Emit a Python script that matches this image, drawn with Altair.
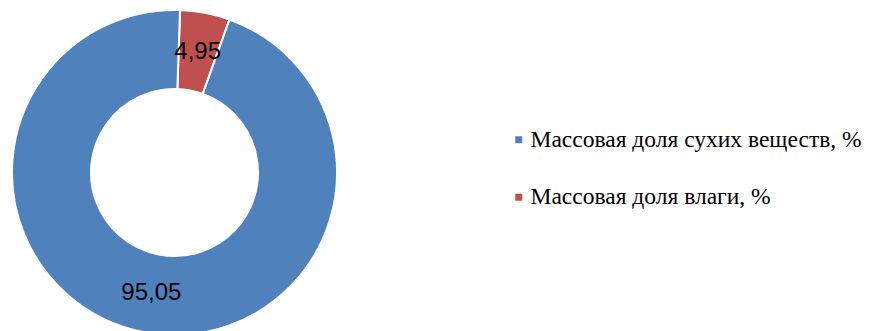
import math
import altair as alt
import pandas as pd

categories = ["Массовая доля влаги, %", "Массовая доля сухих веществ, %"]
values = [4.95, 95.05]
labels = ["4,95", "95,05"]
order = [0, 1]
legend_order = ["Массовая доля сухих веществ, %", "Массовая доля влаги, %"]
colors = ["#4F81BD", "#C0504D"]

df = pd.DataFrame({"cat": categories, "val": values, "lab": labels, "ord": order})

rot = 0.034
theta = alt.Theta("val:Q", stack=True,
                  scale=alt.Scale(range=[rot, 2 * math.pi + rot]))

base = alt.Chart(df)

arcs = base.mark_arc(outerRadius=162.5, innerRadius=83.5, stroke="white",
                     strokeWidth=2).encode(
    theta=theta,
    order=alt.Order("ord:Q"),
    x=alt.value(166.5),
    y=alt.value(164.5),
    color=alt.Color(
        "cat:N",
        scale=alt.Scale(domain=legend_order, range=colors),
        legend=alt.Legend(
            title=None, orient="none", legendX=499, legendY=120,
            symbolType="square", symbolSize=49, symbolStrokeWidth=0,
            labelFont="Liberation Serif", labelFontSize=23.5,
            labelColor="#000000", labelLimit=600, labelOffset=0,
            rowPadding=32.5,
        ),
    ),
)

texts = base.mark_text(radius=123, font="Liberation Sans", fontSize=24,
                       color="#000000").encode(
    theta=theta,
    order=alt.Order("ord:Q"),
    x=alt.value(166.5),
    y=alt.value(164.5),
    text="lab:N",
)

chart = alt.layer(arcs, texts).properties(
    width=857, height=323, padding=0, autosize=alt.AutoSizeParams(type="none")
).configure_view(strokeWidth=0)

chart.save("out.html", embed_options={"renderer": "svg", "actions": False})
